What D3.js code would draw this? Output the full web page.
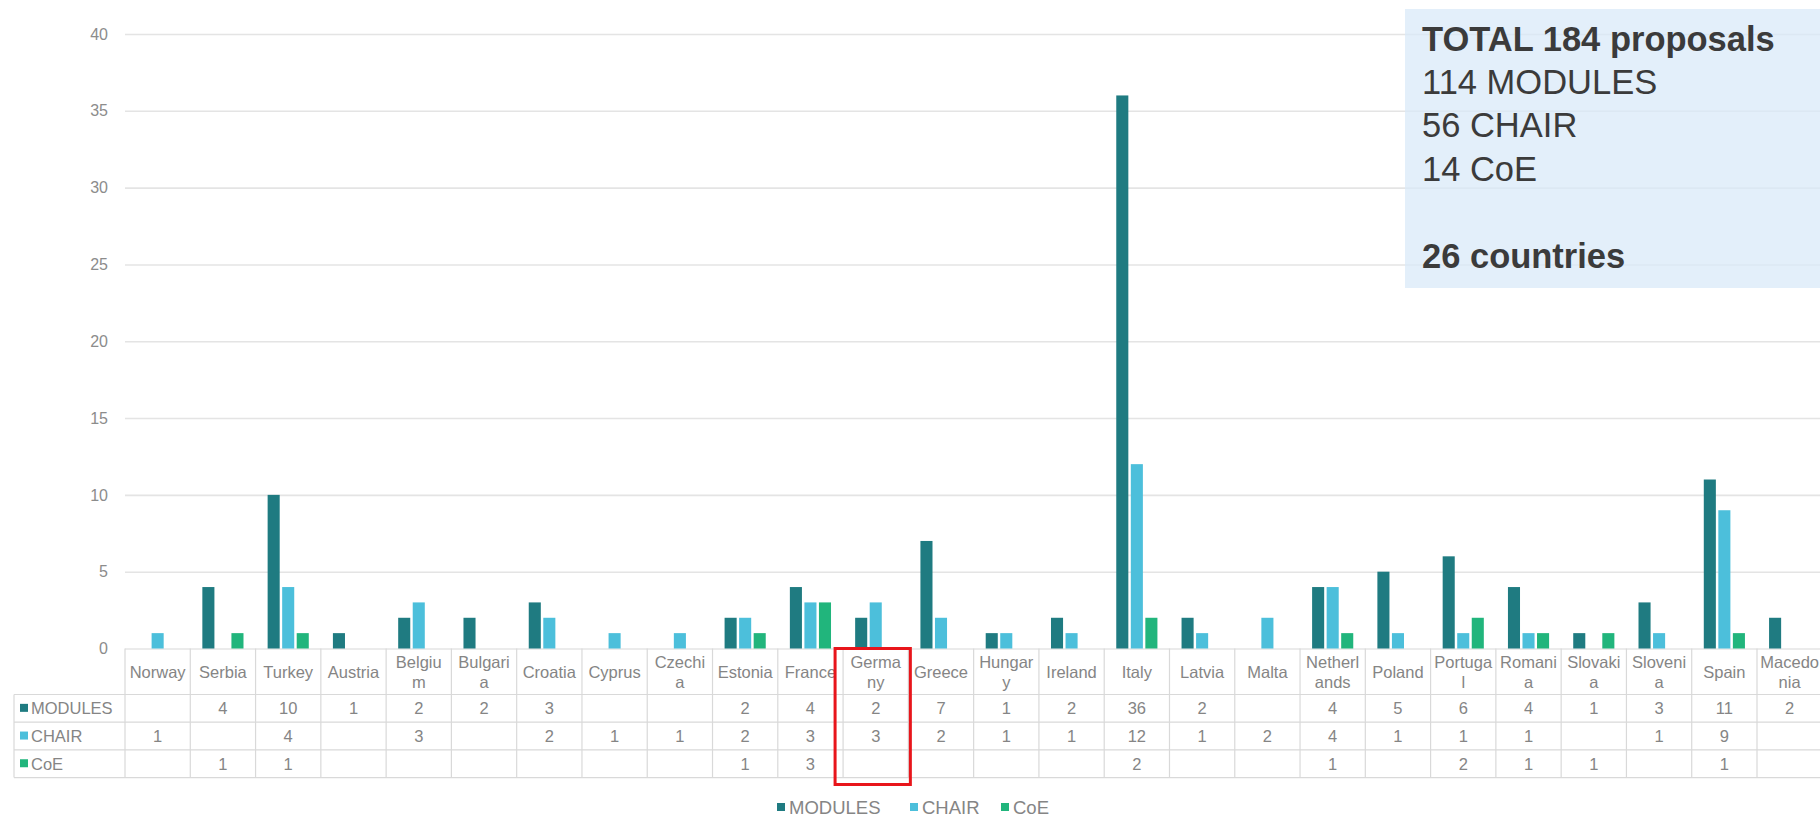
<!DOCTYPE html>
<html>
<head>
<meta charset="utf-8">
<script src="https://cdn.jsdelivr.net/npm/d3@7"></script>
<style>
  html, body { margin: 0; padding: 0; background: #fff; }
  svg { display: block; font-family: 'Liberation Sans', Arial, sans-serif; }
  .axis--y .domain { display: none; }
  .axis--y line { stroke: #e4e4e4; stroke-width: 1.6; }
  .axis--y text { fill: #8c8c8c; font-size: 16px; }
  .tbl line { stroke: #d9d9d9; stroke-width: 1.2; }
  .tbl text { fill: #858585; font-size: 16.5px; }
</style>
</head>
<body>
<div id="chart"></div>
<script>
const categories = ['Norway', 'Serbia', 'Turkey', 'Austria', 'Belgium', 'Bulgaria', 'Croatia', 'Cyprus',
  'Czechia', 'Estonia', 'France', 'Germany', 'Greece', 'Hungary', 'Ireland', 'Italy', 'Latvia', 'Malta',
  'Netherlands', 'Poland', 'Portugal', 'Romania', 'Slovakia', 'Slovenia', 'Spain', 'Macedonia']
// labels as wrapped in the table header
const categoryLabels = ['Norway', 'Serbia', 'Turkey', 'Austria', 'Belgiu|m', 'Bulgari|a', 'Croatia', 'Cyprus',
  'Czechi|a', 'Estonia', 'France', 'Germa|ny', 'Greece', 'Hungar|y', 'Ireland', 'Italy', 'Latvia', 'Malta',
  'Netherl|ands', 'Poland', 'Portuga|l', 'Romani|a', 'Slovaki|a', 'Sloveni|a', 'Spain', 'Macedo|nia']

const series = ['MODULES', 'CHAIR', 'CoE']
const modules = [null, 4, 10, 1, 2, 2, 3, null, null, 2, 4, 2, 7, 1, 2, 36, 2, null, 4, 5, 6, 4, 1, 3, 11, 2]
const chair = [1, null, 4, null, 3, null, 2, 1, 1, 2, 3, 3, 2, 1, 1, 12, 1, 2, 4, 1, 1, 1, null, 1, 9, null]
const coe = [null, 1, 1, null, null, null, null, null, null, 1, 3, null, null, null, null, 2, null, null, 1, null, 2, 1, 1, null, 1, null]
const yTicks = [0, 5, 10, 15, 20, 25, 30, 35, 40]
const infoLines = [
  { text: 'TOTAL 184 proposals', bold: true },
  { text: '114 MODULES' },
  { text: '56 CHAIR' },
  { text: '14 CoE' },
  { text: '' },
  { text: '26 countries', bold: true }
]
const highlighted = 'Germany'

const colors = { MODULES: '#1f7b81', CHAIR: '#4cbfdb', CoE: '#21b57c' }

const width = 1820
const height = 817
const plot = { left: 125, top: 34, bottom: 648.5, colW: 65.28 }
const rowsTop = plot.bottom
const headH = 46
const rowH = 27.7

const values = { MODULES: modules, CHAIR: chair, CoE: coe }
const data = categories.map((c, i) => ({
  country: c,
  label: categoryLabels[i],
  values: series.map(s => ({ key: s, value: values[s][i] }))
}))

const svg = d3.select('#chart').append('svg')
  .attr('width', width)
  .attr('height', height)

const x0 = d3.scaleBand()
  .domain(categories)
  .range([plot.left, plot.left + plot.colW * categories.length])
  .padding(0)

const x1 = d3.scaleBand()
  .domain(series)
  .range([0, x0.bandwidth()])
  .paddingInner(0.17)
  .paddingOuter(0.83)

const y = d3.scaleLinear().domain([0, 40]).range([plot.bottom, plot.top])

// gridlines + y labels
const axisY = d3.axisLeft(y)
  .tickValues(yTicks)
  .tickSize(-(x0.range()[1] - plot.left))
  .tickPadding(17)
svg.append('g')
  .attr('class', 'axis axis--y')
  .attr('transform', 'translate(' + plot.left + ',0)')
  .call(axisY)
svg.select('.axis--y').selectAll('.tick').filter(d => d === 0).select('line')
  .attr('stroke', '#d9d9d9')

// info box sits over the gridlines, a bit see-through
const box = svg.append('g').attr('class', 'info')
box.append('rect')
  .attr('x', 1405).attr('y', 9)
  .attr('width', 430).attr('height', 279)
  .attr('fill', '#d8e9f8')
  .attr('fill-opacity', 0.72)
box.selectAll('text')
  .data(infoLines)
  .join('text')
  .attr('x', 1422)
  .attr('y', (d, i) => 50.5 + i * 43.4)
  .attr('fill', '#3b3b3b')
  .attr('font-size', 34.5)
  .attr('font-weight', d => d.bold ? 'bold' : 'normal')
  .text(d => d.text)

// bars
const groups = svg.append('g').attr('class', 'g-plot')
  .selectAll('g')
  .data(data)
  .join('g')
  .attr('transform', d => 'translate(' + x0(d.country) + ',0)')

groups.selectAll('rect')
  .data(d => d.values.filter(v => v.value != null))
  .join('rect')
  .attr('x', d => x1(d.key))
  .attr('width', x1.bandwidth())
  .attr('y', d => y(d.value))
  .attr('height', d => y(0) - y(d.value))
  .attr('fill', d => colors[d.key])

// data table under the chart
const tbl = svg.append('g').attr('class', 'tbl')
const tblRight = x0.range()[1]
const rowY = series.map((s, i) => rowsTop + headH + i * rowH)
const tblBottom = rowsTop + headH + series.length * rowH

tbl.selectAll('line.v')
  .data(categories.concat(['_end']))
  .join('line')
  .attr('class', 'v')
  .attr('x1', (d, i) => plot.left + i * x0.bandwidth())
  .attr('x2', (d, i) => plot.left + i * x0.bandwidth())
  .attr('y1', rowsTop)
  .attr('y2', tblBottom)

tbl.append('line')
  .attr('x1', 14).attr('x2', 14)
  .attr('y1', rowsTop + headH).attr('y2', tblBottom)

tbl.selectAll('line.h')
  .data(rowY.concat([tblBottom]))
  .join('line')
  .attr('class', 'h')
  .attr('x1', 14).attr('x2', tblRight)
  .attr('y1', d => d).attr('y2', d => d)

// header labels
tbl.selectAll('text.cat')
  .data(data)
  .join('text')
  .attr('class', 'cat')
  .attr('text-anchor', 'middle')
  .attr('x', d => x0(d.country) + x0.bandwidth() / 2)
  .each(function(d) {
    const lines = d.label.split('|')
    const t = d3.select(this)
    const y0 = lines.length === 1 ? rowsTop + 29 : rowsTop + 19
    lines.forEach((ln, k) => {
      t.append('tspan')
        .attr('x', x0(d.country) + x0.bandwidth() / 2)
        .attr('y', y0 + k * 20)
        .text(ln)
    })
  })

// row headers with colour keys
series.forEach((s, i) => {
  const cy = rowY[i] + rowH / 2
  tbl.append('rect')
    .attr('x', 20).attr('y', cy - 4.5)
    .attr('width', 8).attr('height', 8)
    .attr('fill', colors[s])
  tbl.append('text')
    .attr('x', 31).attr('y', cy + 6)
    .attr('font-size', 17.5)
    .text(s)
  tbl.selectAll('text.val-' + s)
    .data(data.filter(d => values[s][categories.indexOf(d.country)] != null))
    .join('text')
    .attr('class', 'val-' + s)
    .attr('text-anchor', 'middle')
    .attr('x', d => x0(d.country) + x0.bandwidth() / 2)
    .attr('y', cy + 6)
    .text(d => values[s][categories.indexOf(d.country)])
})

// red box round the highlighted column
svg.append('rect')
  .attr('x', x0(highlighted) - 8)
  .attr('y', rowsTop)
  .attr('width', x0.bandwidth() + 10)
  .attr('height', 136)
  .attr('fill', 'none')
  .attr('stroke', '#e8151b')
  .attr('stroke-width', 3)

// legend
const legendItems = [
  { key: 'MODULES', x: 777 },
  { key: 'CHAIR', x: 910 },
  { key: 'CoE', x: 1001 }
]
const legend = svg.append('g').attr('class', 'legend')
legendItems.forEach(d => {
  legend.append('rect')
    .attr('x', d.x).attr('y', 803)
    .attr('width', 8).attr('height', 8)
    .attr('fill', colors[d.key])
  legend.append('text')
    .attr('x', d.x + 12).attr('y', 814)
    .attr('fill', '#858585')
    .attr('font-size', 18.5)
    .text(d.key)
})
</script>
</body>
</html>
